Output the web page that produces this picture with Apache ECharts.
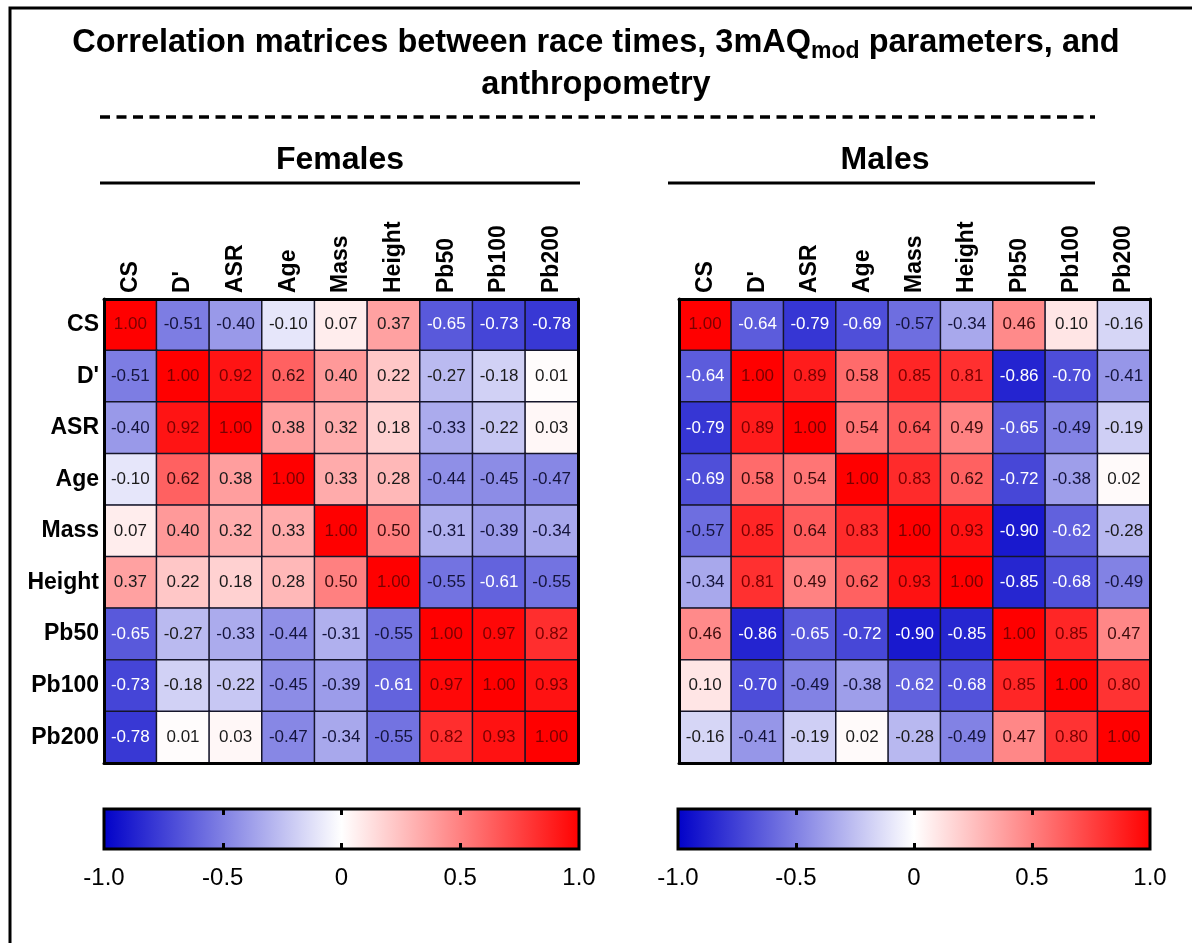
<!DOCTYPE html>
<html><head><meta charset="utf-8">
<script src="https://cdn.jsdelivr.net/npm/echarts@6/dist/echarts.min.js"></script>
<style>html,body{margin:0;padding:0;background:#fff}#c{width:1192px;height:943px}</style>
</head><body><div id="c"></div>
<script>
const categories = ['CS', "D'", 'ASR', 'Age', 'Mass', 'Height', 'Pb50', 'Pb100', 'Pb200'];
const females = [
  [1.00, -0.51, -0.40, -0.10, 0.07, 0.37, -0.65, -0.73, -0.78],
  [-0.51, 1.00, 0.92, 0.62, 0.40, 0.22, -0.27, -0.18, 0.01],
  [-0.40, 0.92, 1.00, 0.38, 0.32, 0.18, -0.33, -0.22, 0.03],
  [-0.10, 0.62, 0.38, 1.00, 0.33, 0.28, -0.44, -0.45, -0.47],
  [0.07, 0.40, 0.32, 0.33, 1.00, 0.50, -0.31, -0.39, -0.34],
  [0.37, 0.22, 0.18, 0.28, 0.50, 1.00, -0.55, -0.61, -0.55],
  [-0.65, -0.27, -0.33, -0.44, -0.31, -0.55, 1.00, 0.97, 0.82],
  [-0.73, -0.18, -0.22, -0.45, -0.39, -0.61, 0.97, 1.00, 0.93],
  [-0.78, 0.01, 0.03, -0.47, -0.34, -0.55, 0.82, 0.93, 1.00]
];
const males = [
  [1.00, -0.64, -0.79, -0.69, -0.57, -0.34, 0.46, 0.10, -0.16],
  [-0.64, 1.00, 0.89, 0.58, 0.85, 0.81, -0.86, -0.70, -0.41],
  [-0.79, 0.89, 1.00, 0.54, 0.64, 0.49, -0.65, -0.49, -0.19],
  [-0.69, 0.58, 0.54, 1.00, 0.83, 0.62, -0.72, -0.38, 0.02],
  [-0.57, 0.85, 0.64, 0.83, 1.00, 0.93, -0.90, -0.62, -0.28],
  [-0.34, 0.81, 0.49, 0.62, 0.93, 1.00, -0.85, -0.68, -0.49],
  [0.46, -0.86, -0.65, -0.72, -0.90, -0.85, 1.00, 0.85, 0.47],
  [0.10, -0.70, -0.49, -0.38, -0.62, -0.68, 0.85, 1.00, 0.80],
  [-0.16, -0.41, -0.19, 0.02, -0.28, -0.49, 0.47, 0.80, 1.00]
];
const colorbarTicks = [-1, -0.5, 0, 0.5, 1];
const colorbarLabels = ['-1.0', '-0.5', '0', '0.5', '1.0'];
const panelTitles = ['Females', 'Males'];

const FONT = '"Liberation Sans", Arial, sans-serif';
const BLUE = '#0000c8', WHITE = '#ffffff', RED = '#ff0000';

function labelColor(v) {
  if (v <= -0.6) return '#ffffff';
  if (v <= -0.3) return '#14143c';
  if (v >= 0.75) return '#7a0000';
  if (v >= 0.45) return '#3c0c0c';
  return '#1a1a1a';
}
function toData(m) {
  const out = [];
  m.forEach((row, r) => row.forEach((v, c) => {
    out.push({ value: [c, r, v], label: { color: labelColor(v) } });
  }));
  return out;
}

const heatGrids = [
  { left: 104, top: 299, width: 474, height: 464 },
  { left: 679, top: 299, width: 471, height: 464 }
];
const barGrids = [
  { left: 104, top: 809, width: 475, height: 40 },
  { left: 678, top: 809, width: 472, height: 40 }
];

const grid = [], xAxis = [], yAxis = [], series = [], visualMap = [];
const edge = { show: true, lineStyle: { color: '#000', width: 3 } };
[females, males].forEach((m, i) => {
  grid.push(Object.assign({ containLabel: false }, heatGrids[i]));
  const gi = grid.length - 1;
  xAxis.push({ type: 'category', data: categories, gridIndex: gi, position: 'top', z: 5,
    axisLine: edge, axisTick: { show: false },
    axisLabel: { rotate: -90, fontSize: 23, fontWeight: 'bold', color: '#000', fontFamily: FONT, margin: 6 } });
  xAxis.push({ type: 'category', data: categories, gridIndex: gi, position: 'bottom', z: 5,
    axisLine: edge, axisTick: { show: false }, axisLabel: { show: false } });
  yAxis.push({ type: 'category', data: categories, gridIndex: gi, inverse: true, position: 'left', z: 5,
    axisLine: edge, axisTick: { show: false },
    axisLabel: { show: i === 0, fontSize: 23, fontWeight: 'bold', color: '#000', fontFamily: FONT, margin: 5 } });
  yAxis.push({ type: 'category', data: categories, gridIndex: gi, inverse: true, position: 'right', z: 5,
    axisLine: edge, axisTick: { show: false }, axisLabel: { show: false } });
  series.push({ type: 'heatmap', xAxisIndex: xAxis.length - 2, yAxisIndex: yAxis.length - 2,
    data: toData(m),
    itemStyle: { borderColor: '#15152a', borderWidth: 1.5 },
    label: { show: true, fontSize: 17, fontFamily: FONT, formatter: p => p.value[2].toFixed(2) },
    emphasis: { disabled: true } });
  visualMap.push({ show: false, type: 'continuous', min: -1, max: 1, dimension: 2, seriesIndex: series.length - 1,
    inRange: { color: [BLUE, WHITE, RED] } });
});

barGrids.forEach((g, i) => {
  grid.push(Object.assign({ show: true, borderColor: '#000', borderWidth: 3,
    backgroundColor: new echarts.graphic.LinearGradient(0, 0, 1, 0, [
      { offset: 0, color: BLUE }, { offset: 0.5, color: WHITE }, { offset: 1, color: RED }]) }, g));
  const gi = grid.length - 1;
  const common = { type: 'value', gridIndex: gi, min: colorbarTicks[0], max: colorbarTicks[colorbarTicks.length - 1], interval: 0.5,
    axisLine: { show: false }, splitLine: { show: false },
    axisTick: { show: true, inside: true, length: 6, lineStyle: { color: '#000', width: 3 },
      customValues: colorbarTicks.slice(1, -1) } };
  xAxis.push(Object.assign({}, common, { position: 'bottom',
    axisLabel: { show: true, fontSize: 24, color: '#000', fontFamily: FONT, margin: 17,
      formatter: v => { const k = colorbarTicks.indexOf(Math.round(v * 10) / 10); return k >= 0 ? colorbarLabels[k] : ''; } } }));
  xAxis.push(Object.assign({}, common, { position: 'top', axisLabel: { show: false } }));
  yAxis.push({ type: 'value', gridIndex: gi, show: false });
});

const graphic = [
  { type: 'rect', shape: { x: 10, y: 8, width: 1200, height: 960 }, style: { fill: 'none', stroke: '#000', lineWidth: 3 }, z: -1 },
  { type: 'line', shape: { x1: 100, y1: 117, x2: 1095, y2: 117 }, style: { stroke: '#000', lineWidth: 3.5, lineDash: [10, 6.5] } },
  { type: 'line', shape: { x1: 100, y1: 183, x2: 580, y2: 183 }, style: { stroke: '#000', lineWidth: 3 } },
  { type: 'line', shape: { x1: 668, y1: 183, x2: 1095, y2: 183 }, style: { stroke: '#000', lineWidth: 3 } }
];

const option = {
  backgroundColor: '#fff',
  animation: false,
  title: [
    { text: '{a|Correlation matrices between race times, 3mAQ}{s|mod}{a| parameters, and}',
      left: 'center', top: 23, padding: 0,
      textStyle: { rich: {
        a: { fontSize: 32.5, fontWeight: 'bold', fontFamily: FONT, color: '#000', lineHeight: 40 },
        s: { fontSize: 23, fontWeight: 'bold', fontFamily: FONT, color: '#000', lineHeight: 24, verticalAlign: 'bottom' } } } },
    { text: 'anthropometry', left: 'center', top: 65, padding: 0,
      textStyle: { fontSize: 32.5, fontWeight: 'bold', fontFamily: FONT, color: '#000', lineHeight: 40 } },
    { text: panelTitles[0], left: 340, top: 142, textAlign: 'center', padding: 0,
      textStyle: { fontSize: 32, fontWeight: 'bold', fontFamily: FONT, color: '#000', lineHeight: 36 } },
    { text: panelTitles[1], left: 885, top: 142, textAlign: 'center', padding: 0,
      textStyle: { fontSize: 32, fontWeight: 'bold', fontFamily: FONT, color: '#000', lineHeight: 36 } }
  ],
  grid, xAxis, yAxis, series, visualMap, graphic
};
const chart = echarts.init(document.getElementById('c'), null, { renderer: 'canvas' });
chart.setOption(option);
</script></body></html>
